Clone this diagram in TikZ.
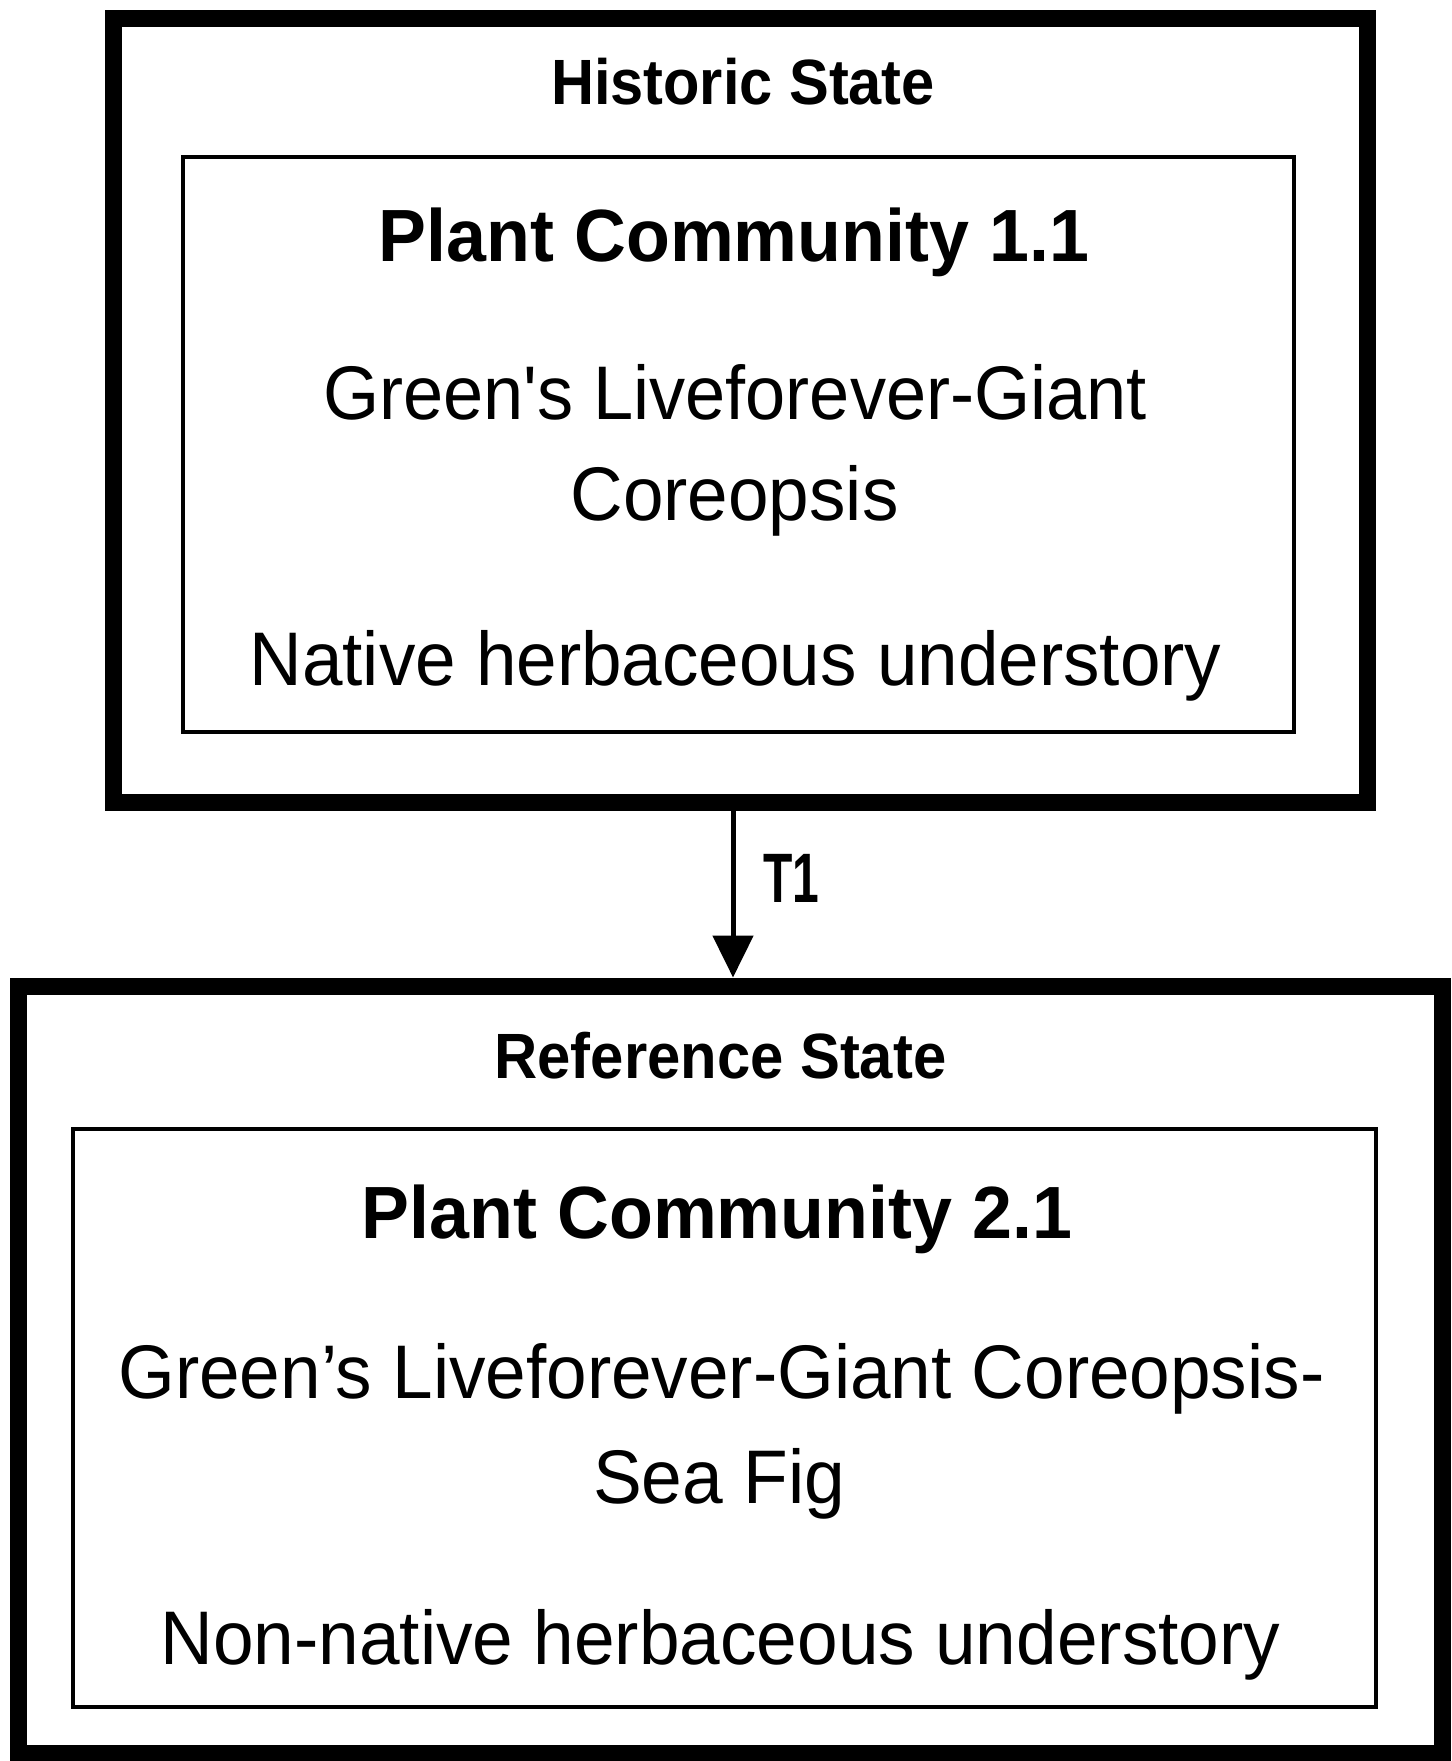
\documentclass[tikz,border=0pt]{standalone}
\usepackage{fontspec}
\usepackage{graphicx}
\newfontfamily\arialf{Liberation Sans}
\usetikzlibrary{arrows.meta}
\newcommand{\fw}[2]{\resizebox{#1}{\height}{#2}}
\tikzset{
  statebox/.style={draw=black, line width=8.5pt, fill=none, inner sep=0pt},
  commbox/.style={draw=black, line width=1.6pt, fill=none, inner sep=0pt},
  hdr/.style={anchor=base, inner sep=0pt, font=\arialf\bfseries\fontsize{32}{38}\selectfont},
  pctitle/.style={anchor=base, inner sep=0pt, font=\arialf\bfseries\fontsize{37}{44}\selectfont},
  body/.style={anchor=base, inner sep=0pt, font=\arialf\fontsize{38}{46}\selectfont},
  trans/.style={-{Triangle[width=20pt,length=21pt]}, line width=2.5pt}
}
\begin{document}
\begin{tikzpicture}[x=0.5pt,y=-0.5pt]
\useasboundingbox (0,0) rectangle (1451,1761);
% state boxes
\node[statebox, minimum width=627pt, minimum height=392pt] (s1) at (740,410) {};
\node[statebox, minimum width=712pt, minimum height=383.5pt] (s2) at (730,1369.5) {};
% community boxes
\node[commbox, minimum width=555.5pt, minimum height=287.5pt] (c1) at (738.5,444.5) {};
\node[commbox, minimum width=651.5pt, minimum height=289pt] (c2) at (724.5,1418) {};
% texts state 1
\node[hdr] (h1) at (743,104) {\fw{192pt}{Historic State}};
\node[pctitle] (p1) at (734,261) {\fw{355pt}{Plant Community 1.1}};
\node[body] (b1a) at (735,419) {\fw{412pt}{Green's Liveforever-Giant}};
\node[body] (b1b) at (734.5,520) {\fw{164pt}{Coreopsis}};
\node[body] (b1c) at (735.5,685) {\fw{486pt}{Native herbaceous understory}};
% texts state 2
\node[hdr] (h2) at (720.5,1078) {\fw{226pt}{Reference State}};
\node[pctitle] (p2) at (717,1238) {\fw{355pt}{Plant Community 2.1}};
\node[body] (b2a) at (721.5,1398) {\fw{603pt}{Green’s Liveforever-Giant Coreopsis-}};
\node[body] (b2b) at (719,1503) {\fw{126pt}{Sea Fig}};
\node[body] (b2c) at (720.5,1664) {\fw{560pt}{Non-native herbaceous understory}};
% transition
\draw[trans] (s1.south -| 733,0) -- (s2.north -| 733,0);
\node[anchor=base, inner sep=0pt, font=\arialf\bfseries\fontsize{35}{42}\selectfont] (t1) at (791,902) {\fw{28pt}{T1}};
\end{tikzpicture}
\end{document}
